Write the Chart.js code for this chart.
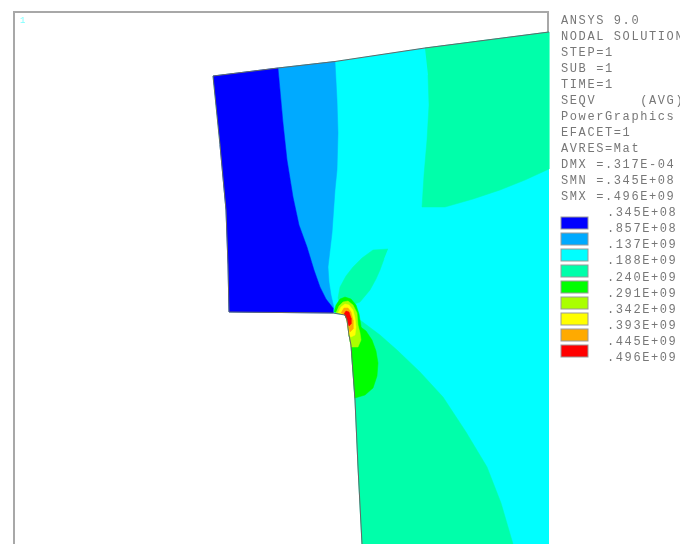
<!DOCTYPE html>
<html>
<head>
<meta charset="utf-8">
<style>
html,body{margin:0;padding:0;background:#fff;width:680px;height:544px;overflow:hidden}
canvas{display:block;filter:blur(0.7px)}
</style>
<script src="https://cdn.jsdelivr.net/npm/chart.js@4"></script>
</head>
<body>
<canvas id="c" width="680" height="544"></canvas>
<script>
const infoLines = ["ANSYS 9.0","NODAL SOLUTION","STEP=1","SUB =1","TIME=1","SEQV     (AVG)","PowerGraphics","EFACET=1","AVRES=Mat","DMX =.317E-04","SMN =.345E+08","SMX =.496E+09"];
const levelLabels = [".345E+08",".857E+08",".137E+09",".188E+09",".240E+09",".291E+09",".342E+09",".393E+09",".445E+09",".496E+09"];
const bandColors = ["#0000ff","#00aaff","#00ffff","#00ffaa","#00ff00","#aaff00","#ffff00","#ffaa00","#ff0000"];

const modelOutline = [[549,32],[425,48],[335,61.5],[278,68],[213,76],[220,145],[226,210],[228,265],[229,312],[333,313],[345,315],[347,320],[349,335],[351,345],[355,400],[358,467],[362,544]];
const modelFill = modelOutline.concat([[549,544]]);
const band1 = [[213,76],[278,68],[283,123],[287,160],[293,197],[299,225],[307,247],[314,270],[320,287],[326,299],[333,308],[333,313],[229,312],[228,265],[226,210],[220,145]];
const band2 = [[278,68],[335,61.5],[337,100],[338,133],[337,170],[335,190],[332,233],[328,267],[329,282],[331,295],[334,308],[333,308],[326,299],[320,287],[314,270],[307,247],[299,225],[293,197],[287,160],[283,123]];
const band4a = [[425,48],[549,32],[549,169],[525,180],[500,190],[473,199],[445,207],[422,207],[424,175],[427,140],[429,105],[428,75]];
const band4b = [[388,249],[373,250],[362,258],[353,267],[346,276],[340,287],[338,298],[340,305],[352,305],[360,302],[370,290],[376,279],[380,270],[384,259]];
const band4c = [[350,316],[360,320],[380,335],[397,350],[420,372],[443,397],[466,432],[487,467],[501,503],[513,544],[362,544],[358,467],[355,400],[351,345],[349,335]];
const band5a = [[352,322],[358,325],[366,331],[372,340],[376,351],[378,363],[377,376],[373,388],[365,395],[355,398],[352,360],[351,345],[349,335]];
const band5b = [[334,312],[336,305],[340,299],[345,297],[351,299],[356,305],[359,314],[361,326],[362,338],[353,342],[349,335],[347,320],[345,315]];
const band6 = [[336,313],[339,306],[343,302],[348,301],[353,305],[357,313],[358,325],[360,333],[361,340],[358,347],[351,347],[349,335],[347,320],[345,315]];
const band7 = [[338,313],[341,307],[345,304],[349,305],[353,310],[355,318],[356,327],[355,335],[351,337],[349,335],[347,320],[345,315]];
const band8 = [[341,313],[344,308],[348,308],[351,312],[353,320],[353,329],[350,332],[348,325],[347,320],[345,315]];
const band9 = [[344,314],[346,311],[349,312],[351,318],[351,324],[349,326],[347,320]];

const regions = [
  [modelFill,2],[band2,1],[band1,0],[band4a,3],[band4b,3],[band4c,3],[band5a,4],[band5b,4],[band6,5],[band7,6],[band8,7],[band9,8]
];
const toPts = a => a.map(p => ({x:p[0],y:p[1]}));
const datasets = regions.map((r,i) => ({
  data: toPts(r[0]),
  backgroundColor: bandColors[r[1]],
  borderColor: bandColors[r[1]],
  borderWidth: 0.5,
  fill: 'shape',
  showLine: true,
  pointRadius: 0,
  tension: 0,
  order: 100 - i
}));
datasets.push({
  data: toPts(modelOutline),
  borderColor: '#666666',
  borderWidth: 1,
  fill: false,
  showLine: true,
  pointRadius: 0,
  tension: 0,
  order: 0
});

const annotate = {
  id:'annotate',
  beforeDatasetsDraw(chart){
    const c = chart.ctx;
    c.save();
    c.strokeStyle = '#a8a8a8';
    c.lineWidth = 2;
    c.beginPath();
    c.moveTo(14,544); c.lineTo(14,12); c.lineTo(548,12); c.lineTo(548,33);
    c.stroke();
    c.restore();
  },
  afterDatasetsDraw(chart){
    const c = chart.ctx;
    c.save();
    c.textBaseline = 'middle';
    c.textAlign = 'left';
    c.font = '12px "Liberation Mono"';
    c.letterSpacing = '1.6px';
    c.fillStyle = '#777777';
    infoLines.forEach((t,i) => c.fillText(t,561,21 + i*16));
    levelLabels.forEach((t,i) => c.fillText(t,607,213 + i*16.1));
    c.letterSpacing = '0px';
    bandColors.forEach((col,i) => {
      const y = 217 + i*16;
      c.fillStyle = col;
      c.fillRect(561,y,27,12);
      c.strokeStyle = '#999999';
      c.lineWidth = 1;
      c.strokeRect(561,y,27,12);
    });
    c.fillStyle = '#7fffff';
    c.font = '9px "Liberation Mono"';
    c.fillText('1',20,21);
    c.restore();
  }
};

new Chart(document.getElementById('c'),{
  type:'scatter',
  data:{datasets},
  plugins:[annotate],
  options:{
    responsive:false,
    animation:false,
    layout:{padding:0},
    plugins:{legend:{display:false},tooltip:{enabled:false},title:{display:false}},
    scales:{
      x:{type:'linear',min:0,max:680,display:false},
      y:{type:'linear',min:0,max:544,reverse:true,display:false}
    }
  }
});
</script>
</body>
</html>
